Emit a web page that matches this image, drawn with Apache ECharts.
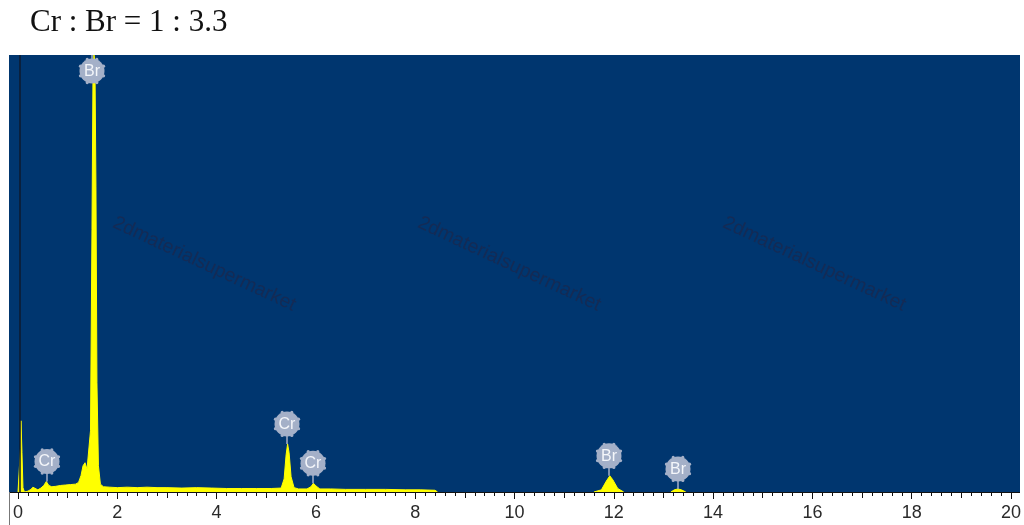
<!DOCTYPE html>
<html>
<head>
<meta charset="utf-8">
<script src="https://cdn.jsdelivr.net/npm/echarts@6/dist/echarts.min.js"></script>
<style>
html,body{margin:0;padding:0;background:#fff;}
#chart{width:1024px;height:525px;}
</style>
</head>
<body>
<div id="chart"></div>
<script>
// ---- data (energy in keV, counts in relative units) ----
const energyKeV = [0, 0.03, 0.05, 0.06, 0.08, 0.10, 0.13, 0.20, 0.26, 0.30, 0.34, 0.40, 0.46, 0.52, 0.57, 0.62, 0.68, 0.76, 0.86, 0.96,
  1.06, 1.16, 1.22, 1.27, 1.31, 1.35, 1.39, 1.43, 1.46, 1.49, 1.51, 1.53, 1.55, 1.57, 1.59, 1.62, 1.66, 1.72, 1.85, 2.0,
  2.2, 2.4, 2.6, 2.8, 3.0, 3.3, 3.6, 3.9, 4.2, 4.5, 4.8, 5.1, 5.30, 5.36, 5.40, 5.43, 5.46, 5.50, 5.56, 5.65,
  5.82, 5.90, 5.95, 6.00, 6.08, 6.3, 6.6, 7.0, 7.4, 7.8, 8.1, 8.4, 8.45, 9.0, 10.0, 11.0, 11.6, 11.75, 11.85, 11.92,
  11.98, 12.08, 12.2, 12.5, 13.0, 13.15, 13.22, 13.29, 13.36, 13.45, 14.0, 16.0, 18.0, 20.0];
const counts = [0, 0, 100, 163, 90, 10, 0, 2, 6, 11, 7, 5, 9, 15, 24, 15, 12, 13, 15, 16,
  17, 18, 22, 38, 60, 67, 52, 55, 140, 600, 950, 1000, 980, 700, 250, 60, 18, 12, 11, 10,
  11, 10, 11, 10, 10, 9, 10, 9, 8, 8, 8, 8, 9, 30, 85, 110, 90, 35, 10, 7,
  7, 12, 20, 14, 7, 7, 6, 6, 6, 5, 5, 4, 0, null, null, null, 0, 5, 25, 37,
  28, 8, 0, null, null, 0, 5, 7, 5, 0, null, null, null, null];

// element line markers: energy, marker height (counts), element
const markerKeV = [0.58, 1.49, 5.41, 5.95, 11.91, 13.29];
const markerHeight = [24, 1000, 110, 20, 37, 7];
const markerElement = ['Cr', 'Br', 'Cr', 'Cr', 'Br', 'Br'];

const cursorKeV = [0.04];
const xTickLabels = ['0','2','4','6','8','10','12','14','16','18','20'];
const titleText = 'Cr : Br = 1 : 3.3';
const watermarkText = '2dmaterialsupermarket';

const spectrum = energyKeV.map((e, i) => [e, counts[i]]);
const markers = markerKeV.map((e, i) => [e, markerHeight[i], markerElement[i]]);

const chart = echarts.init(document.getElementById('chart'), null, {renderer: 'canvas'});

const BG = '#00366f';
const wmStyle = {fill: '#142b55', font: '19.5px "Liberation Sans", Arial, sans-serif', textAlign: 'left', textVerticalAlign: 'middle'};

const option = {
  animation: false,
  backgroundColor: '#ffffff',
  grid: {left: 18, right: 12, top: 55, bottom: 33, containLabel: false},
  xAxis: [{
    type: 'value', min: 0, max: 20, interval: 2,
    axisLine: {show: true, lineStyle: {color: '#111', width: 1}},
    axisTick: {show: true, length: 7, lineStyle: {color: '#111', width: 1}},
    minorTick: {show: true, splitNumber: 10, length: 4, lineStyle: {color: '#111', width: 1}},
    splitLine: {show: false},
    axisLabel: {
      margin: 12, color: '#2a2a2a', fontSize: 18,
      fontFamily: '"Liberation Sans", Arial, sans-serif',
      formatter: (v) => { const s = String(Math.round(v)); return xTickLabels.indexOf(s) >= 0 ? s : ''; }
    }
  }, {
    type: 'value', min: 0, max: 20, interval: 1, position: 'bottom',
    axisLine: {show: false},
    axisTick: {show: true, length: 6, lineStyle: {color: '#111', width: 1}},
    axisLabel: {show: false}, splitLine: {show: false}
  }],
  yAxis: {type: 'value', min: 0, max: 1000, show: false},
  graphic: [
    {type: 'rect', shape: {x: 9, y: 55, width: 1011, height: 437}, style: {fill: BG}, z: -10},
    {type: 'line', shape: {x1: 9, y1: 492.5, x2: 1020, y2: 492.5}, style: {stroke: '#111', lineWidth: 1}, z: 50},
    {type: 'line', shape: {x1: 9.5, y1: 492, x2: 9.5, y2: 525}, style: {stroke: '#777', lineWidth: 1}, z: 50},
    {type: 'text', x: 30, y: 23, style: {text: titleText, fill: '#111', font: '31px "Liberation Serif", "Times New Roman", serif', textAlign: 'left', textVerticalAlign: 'middle'}},
    {type: 'text', x: 114, y: 222, rotation: -0.436, style: Object.assign({text: watermarkText}, wmStyle), z: 1},
    {type: 'text', x: 419, y: 222, rotation: -0.436, style: Object.assign({text: watermarkText}, wmStyle), z: 1},
    {type: 'text', x: 724, y: 222, rotation: -0.436, style: Object.assign({text: watermarkText}, wmStyle), z: 1}
  ],
  series: [{
    type: 'line',
    data: spectrum,
    showSymbol: false,
    symbol: 'none',
    connectNulls: false,
    lineStyle: {color: '#ffff00', width: 1},
    areaStyle: {color: '#ffff00', opacity: 1},
    z: 3,
    markLine: {
      silent: true, symbol: ['none', 'none'], label: {show: false},
      lineStyle: {color: '#0e1a2c', width: 1.5, type: 'solid'},
      data: cursorKeV.map(v => ({xAxis: v}))
    }
  }, {
    type: 'custom',
    data: markers,
    clip: false,
    z: 5,
    renderItem: function (params, api) {
      const p = api.coord([api.value(0), api.value(1)]);
      const top = params.coordSys.y;
      const cx = Math.round(p[0]);
      const cy = Math.max(p[1] - 20, top + 16);
      const col = '#a4b0c8';
      const r = 12.5;
      const children = [
        {type: 'line', shape: {x1: cx, y1: p[1], x2: cx, y2: cy}, style: {stroke: col, lineWidth: 1.5}},
        {type: 'circle', shape: {cx: cx, cy: cy, r: r}, style: {fill: col}}
      ];
      for (let k = 0; k < 8; k++) {
        const a = k * Math.PI / 4 + Math.PI / 8;
        children.push({type: 'circle', shape: {cx: cx + Math.cos(a) * r, cy: cy + Math.sin(a) * r, r: 1.6}, style: {fill: col}});
      }
      children.push({type: 'text', x: cx, y: cy + 0.5, style: {text: markerElement[params.dataIndex], fill: '#f4f6fa', font: '16px "Liberation Sans", Arial, sans-serif', textAlign: 'center', textVerticalAlign: 'middle'}});
      return {type: 'group', children: children};
    }
  }]
};
chart.setOption(option);
</script>
</body>
</html>
